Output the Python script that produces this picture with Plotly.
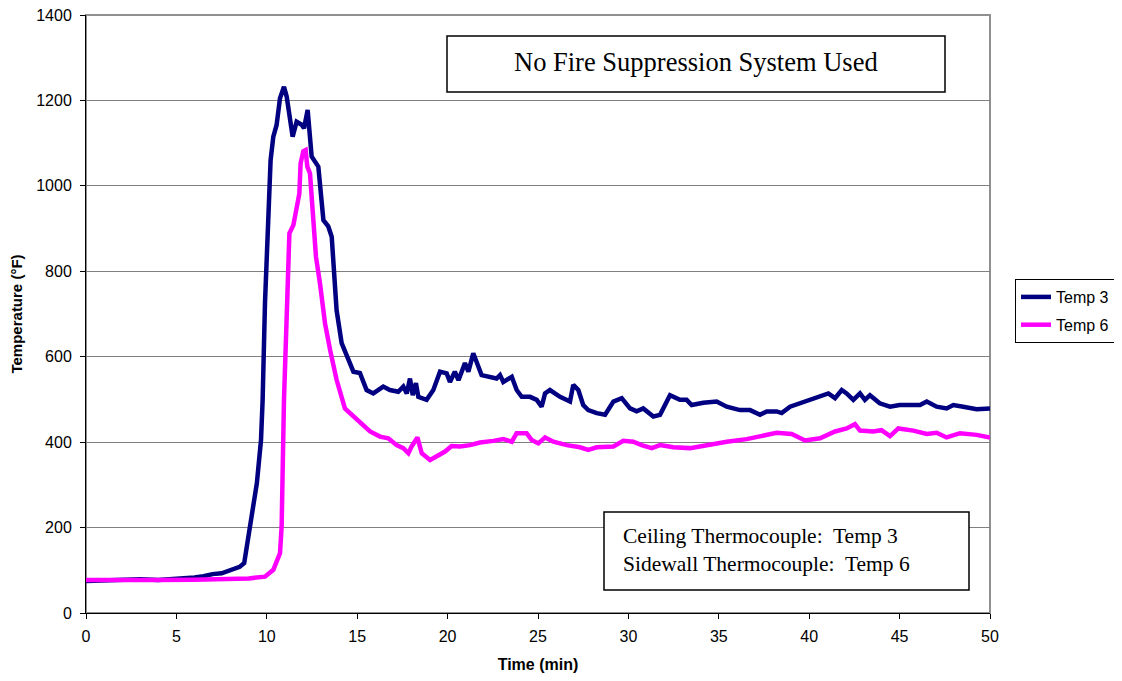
import plotly.graph_objects as go

# ---- data ----
t3_time = [0, 1, 2, 3, 4, 5, 5.5, 6, 6.5, 7, 7.5, 8, 8.5, 8.75, 9.07, 9.45, 9.68, 9.77, 9.9,
           10.08, 10.21, 10.36, 10.54, 10.73, 10.95, 11.1, 11.43, 11.65, 11.93, 12.06, 12.26,
           12.48, 12.85, 13.13, 13.4, 13.59, 13.86, 14.14, 14.42, 14.79, 15.15, 15.52, 15.89,
           16.17, 16.44, 16.81, 17.27, 17.55, 17.74, 17.92, 18.07, 18.25, 18.38, 18.84, 19.21,
           19.58, 19.95, 20.13, 20.4, 20.6, 20.96, 21.15, 21.42, 21.88, 22.25, 22.71, 22.9,
           23.08, 23.55, 23.82, 24.1, 24.56, 24.93, 25.2, 25.39, 25.66, 26.22, 26.68, 26.77,
           26.95, 27.23, 27.5, 27.78, 28.25, 28.71, 29.17, 29.63, 30.09, 30.46, 30.82, 31.38,
           31.75, 32.02, 32.3, 32.85, 33.22, 33.5, 34.14, 34.88, 35.44, 36.17, 36.73, 37.28,
           37.65, 38.2, 38.48, 38.94, 39.5, 40.04, 40.6, 41.06, 41.43, 41.8, 42.07, 42.44,
           42.81, 43.08, 43.36, 43.9, 44.47, 45.0, 45.58, 46.13, 46.5, 47.05, 47.6, 47.97,
           48.52, 49.26, 50]
t3_temp = [75, 77, 77, 79, 77, 79, 80, 83, 86, 91, 93, 100, 108, 117, 200, 304, 405, 499, 726,
           960, 1060, 1115, 1142, 1205, 1232, 1209, 1115, 1150, 1143, 1135, 1178,
           1069, 1045, 920, 905, 881, 709, 632, 600, 565, 562, 522, 514,
           522, 530, 522, 518, 530, 514, 549, 510, 538, 506, 499, 522,
           565, 561, 541, 565, 545, 585, 565, 608, 557, 553, 549, 557,
           541, 553, 522, 506, 506, 499, 483, 514, 522, 506, 499, 495,
           534, 522, 487, 475, 468, 464, 495, 503, 479, 472, 479, 460,
           464, 487, 510, 499, 499, 487, 492, 495, 483, 475, 475, 464,
           472, 472, 468, 483, 491, 499, 508, 514, 503, 522, 514, 499,
           514, 499, 510, 491, 483, 487, 487, 487, 495, 483, 479, 487,
           483, 477, 479]

t6_time = [0, 2, 4, 6, 7, 8, 9, 9.9, 10.36, 10.73, 10.82, 10.95, 11.1, 11.25, 11.47, 11.65,
           11.8, 11.87, 12.02, 12.15, 12.24, 12.39, 12.57, 12.72, 12.94, 13.22, 13.5, 13.86,
           14.32, 14.79, 15.34, 15.71, 16.26, 16.72, 17.18, 17.55, 17.83, 18.01, 18.33, 18.57,
           19.03, 19.4, 19.86, 20.22, 20.69, 21.24, 21.79, 22.53, 23.08, 23.55, 23.82, 24.37,
           24.65, 25.02, 25.39, 25.85, 26.59, 27.32, 27.78, 28.25, 29.17, 29.72, 30.27, 30.73,
           31.29, 31.75, 32.48, 33.41, 34.33, 35.44, 36.54, 37.28, 38.2, 39.03, 39.77, 40.6,
           41.43, 42.07, 42.53, 42.81, 43.54, 44.0, 44.47, 44.93, 45.76, 46.5, 47.05, 47.6,
           48.34, 49.26, 50]
t6_temp = [77, 76, 77, 78, 79, 79, 81, 85, 101, 140, 202, 499, 725, 889, 908, 944,
           982, 1053, 1081, 1084, 1045, 1029, 920, 834, 772, 678, 616, 546,
           479, 460, 440, 425, 413, 409, 393, 386, 374, 390, 411, 374,
           358, 366, 378, 391, 390, 393, 399, 403, 407, 401, 421, 421,
           405, 397, 411, 401, 393, 388, 382, 388, 390, 403, 401, 393,
           386, 393, 388, 386, 393, 401, 407, 414, 422, 419, 404, 409,
           425, 432, 442, 427, 425, 428, 414, 432, 427, 419, 422, 411,
           421, 417, 411]

series_names = ["Temp 3", "Temp 6"]
series_colors = ["#000080", "#FF00FF"]
title_text = "No Fire Suppression System Used"
note_lines = ["Ceiling Thermocouple:  Temp 3", "Sidewall Thermocouple:  Temp 6"]
x_ticks = [0, 5, 10, 15, 20, 25, 30, 35, 40, 45, 50]
y_ticks = [0, 200, 400, 600, 800, 1000, 1200, 1400]

SANS = "Arial, 'Liberation Sans', sans-serif"
SERIF = "'Times New Roman', 'Liberation Serif', serif"

# page body has an 8px margin; lay the figure out so the plot area lands at
# x 86..990, y 15..613 in the 1122x681 window
OFF = 8
W, H = 1122 - OFF, 681 - OFF
PL, PR, PT, PB = 86, 990, 15, 613
PW, PH = PR - PL, PB - PT


def px(x):
    return (x - PL) / PW


def py(y):
    return (PB - y) / PH


fig = go.Figure()
for i, (xs, ys) in enumerate([(t3_time, t3_temp), (t6_time, t6_temp)]):
    fig.add_trace(go.Scatter(
        x=xs, y=ys, mode="lines", name=series_names[i],
        legendgroup=series_names[i],
        line=dict(color=series_colors[i], width=4.5),
    ))

# plot-area border (gray)
fig.add_shape(type="rect", xref="paper", yref="paper", x0=0, y0=0, x1=1, y1=1,
              line=dict(color="#909090", width=2), layer="below")

# title box
fig.add_shape(type="rect", xref="paper", yref="paper",
              x0=px(447), x1=px(945), y0=py(92), y1=py(36),
              line=dict(color="black", width=1.5), fillcolor="white")
fig.add_annotation(xref="paper", yref="paper", x=px(696), y=py(62),
                   text=title_text, showarrow=False, xanchor="center", yanchor="middle",
                   font=dict(family=SERIF, size=26.5, color="black"))

# note box
fig.add_shape(type="rect", xref="paper", yref="paper",
              x0=px(604), x1=px(969), y0=py(590), y1=py(512),
              line=dict(color="black", width=1.5), fillcolor="white")
fig.add_annotation(xref="paper", yref="paper", x=px(621), y=py(550),
                   text="<br>".join(note_lines), showarrow=False, xanchor="left",
                   yanchor="middle", align="left",
                   font=dict(family=SERIF, size=21.5, color="black"))

fig.update_layout(
    width=W, height=H,
    margin=dict(l=PL - OFF, r=1122 - PR, t=PT - OFF, b=681 - PB, autoexpand=False),
    paper_bgcolor="white", plot_bgcolor="white",
    font=dict(family=SANS, size=16, color="black"),
    showlegend=True,
    legend=dict(x=px(1015), y=py(311), xanchor="left", yanchor="middle",
                bordercolor="black", borderwidth=1, bgcolor="white",
                font=dict(family=SANS, size=16, color="black"),
                tracegroupgap=4, itemwidth=30),
    xaxis=dict(range=[0, 50], tickvals=x_ticks, ticks="outside", ticklen=5,
               tickcolor="black", showline=True, linecolor="black", linewidth=1,
               showgrid=False, zeroline=False, automargin=False, ticklabelstandoff=4,
               ticklabeloverflow="allow",
               title=dict(text="<b>Time (min)</b>", font=dict(family=SANS, size=16), standoff=14),
               tickfont=dict(family=SANS, size=16)),
    yaxis=dict(range=[0, 1400], tickvals=y_ticks, ticks="outside", ticklen=5,
               tickcolor="black", showline=True, linecolor="black", linewidth=1,
               showgrid=True, gridcolor="#808080", gridwidth=1, zeroline=False,
               automargin=False, ticklabelstandoff=5, ticklabeloverflow="allow",
               title=dict(text="<b>Temperature (°F)</b>", font=dict(family=SANS, size=15), standoff=14),
               tickfont=dict(family=SANS, size=16)),
)

fig.write_html("out.html")
